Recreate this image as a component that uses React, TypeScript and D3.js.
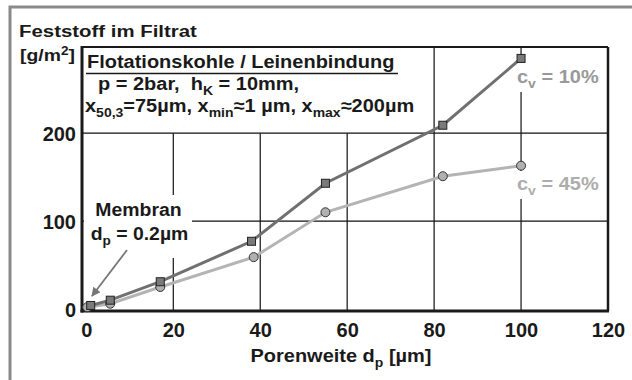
import { useEffect, useRef } from 'react';
import * as d3 from 'd3';
const { select, scaleLinear, axisLeft, axisBottom, line } = d3;

// Porenweite d_p [µm] und Feststoff im Filtrat [g/m²]
const poreSize10 = [1, 5.5, 17, 38, 55, 82, 100];
const solids10 = [4, 10, 31, 77, 143, 209, 285];
const poreSize45 = [0.2, 5.5, 17, 38.5, 55, 82, 100];
const solids45 = [2, 6, 25, 59, 110, 151, 163];

const xTicks = [0, 20, 40, 60, 80, 100, 120];
const yTicks = [0, 100, 200];
const xGridFull = [80, 100];
const xGridLow = [20, 40, 60];
const yGrid = [100, 200];

const FONT = "'Liberation Sans', Arial, Helvetica, sans-serif";

type Part = { t: string; sub?: boolean; sup?: boolean };

const App = () => {
  const ref = useRef<SVGSVGElement | null>(null);

  useEffect(() => {
    const svg = select(ref.current);
    svg.selectAll('*').remove();

    const left = 82, right = 608, top = 47, bottom = 311;
    const x = scaleLinear().domain([-1, 120]).range([left, right]);
    const y = scaleLinear().domain([-2.3, 298]).range([bottom, top]);

    // outer frame
    svg.append('rect')
      .attr('x', 10).attr('y', 7).attr('width', 660).attr('height', 420)
      .attr('fill', 'none').attr('stroke', '#8a8a8a').attr('stroke-width', 3);

    const defs = svg.append('defs');
    defs.append('marker')
      .attr('id', 'arrowHead')
      .attr('viewBox', '0 0 10 10')
      .attr('refX', 9).attr('refY', 5)
      .attr('markerWidth', 11).attr('markerHeight', 9)
      .attr('markerUnits', 'userSpaceOnUse')
      .attr('orient', 'auto')
      .append('path').attr('d', 'M0,0 L10,5 L0,10 z').attr('fill', '#777');

    const text = (
      px: number, py: number, parts: Part[],
      opt: { size?: number; sx?: number; anchor?: string; fill?: string } = {}
    ) => {
      const size = opt.size ?? 18.5;
      const t = svg.append('text')
        .attr('transform', `translate(${px},${py}) scale(${opt.sx ?? 1.08},1)`)
        .attr('font-family', FONT).attr('font-weight', 'bold')
        .attr('font-size', size)
        .attr('text-anchor', opt.anchor ?? 'start')
        .attr('fill', opt.fill ?? '#1a1a1a');
      let shift = 0;
      parts.forEach(p => {
        const target = p.sub ? size * 0.25 : p.sup ? -size * 0.38 : 0;
        t.append('tspan')
          .attr('dy', target - shift)
          .attr('font-size', p.sub || p.sup ? size * 0.7 : size)
          .style('white-space', 'pre')
          .text(p.t);
        shift = target;
      });
      return t;
    };

    // grid
    const g = svg.append('g').attr('stroke', '#111').attr('stroke-width', 1.2);
    xGridLow.forEach(v => g.append('line')
      .attr('x1', x(v)).attr('x2', x(v)).attr('y1', y(200)).attr('y2', bottom));
    xGridFull.forEach(v => g.append('line')
      .attr('x1', x(v)).attr('x2', x(v)).attr('y1', top).attr('y2', bottom));
    yGrid.forEach(v => g.append('line')
      .attr('x1', left).attr('x2', right).attr('y1', y(v)).attr('y2', y(v)));

    // white label backgrounds
    svg.append('rect').attr('x', 84).attr('y', 195).attr('width', 108).attr('height', 63).attr('fill', '#fff');
    svg.append('rect').attr('x', 512).attr('y', 62).attr('width', 90).attr('height', 30).attr('fill', '#fff');
    svg.append('rect').attr('x', 512).attr('y', 171).attr('width', 90).attr('height', 28).attr('fill', '#fff');

    // frame of plot
    svg.append('line').attr('x1', left).attr('x2', right).attr('y1', top).attr('y2', top)
      .attr('stroke', '#1a1a1a').attr('stroke-width', 2);
    svg.append('line').attr('x1', right).attr('x2', right).attr('y1', top).attr('y2', bottom)
      .attr('stroke', '#1a1a1a').attr('stroke-width', 2.5);

    // axes
    const xAxisG = svg.append('g')
      .attr('transform', `translate(0,${bottom})`)
      .call(axisBottom(x).tickValues(xTicks).tickSize(0).tickPadding(6));
    xAxisG.select('.domain').remove();
    xAxisG.selectAll('text')
      .attr('font-family', FONT).attr('font-weight', 'bold').attr('font-size', 20)
      .attr('fill', '#1a1a1a').attr('dy', '0.98em');

    const yAxisG = svg.append('g')
      .attr('transform', `translate(${left},0)`)
      .call(axisLeft(y).tickValues(yTicks).tickSize(0).tickPadding(6));
    yAxisG.select('.domain').remove();
    yAxisG.selectAll('text')
      .attr('font-family', FONT).attr('font-weight', 'bold').attr('font-size', 20)
      .attr('fill', '#1a1a1a').attr('dy', '0.36em');

    svg.append('line').attr('x1', left).attr('x2', left).attr('y1', top - 1).attr('y2', bottom + 1.5)
      .attr('stroke', '#1a1a1a').attr('stroke-width', 3);
    svg.append('line').attr('x1', left - 1.5).attr('x2', right + 1).attr('y1', bottom).attr('y2', bottom)
      .attr('stroke', '#1a1a1a').attr('stroke-width', 3);

    // series
    const d10 = poreSize10.map((v, i) => [v, solids10[i]] as [number, number]);
    const d45 = poreSize45.map((v, i) => [v, solids45[i]] as [number, number]);
    const path = line<[number, number]>().x(d => x(d[0])).y(d => y(d[1]));

    svg.append('path').attr('d', path(d45)).attr('fill', 'none')
      .attr('stroke', '#b4b4b4').attr('stroke-width', 3);
    svg.append('path').attr('d', path(d10)).attr('fill', 'none')
      .attr('stroke', '#707070').attr('stroke-width', 3);

    svg.selectAll('circle.c45').data(d45).enter().append('circle')
      .attr('cx', d => x(d[0])).attr('cy', d => y(d[1])).attr('r', 4.5)
      .attr('fill', '#b0b0b0').attr('stroke', '#333').attr('stroke-width', 1);
    svg.selectAll('rect.s10').data(d10).enter().append('rect')
      .attr('x', d => x(d[0]) - 4).attr('y', d => y(d[1]) - 4)
      .attr('width', 8).attr('height', 8)
      .attr('fill', '#7a7a7a').attr('stroke', '#222').attr('stroke-width', 1);

    // arrow for Membran
    svg.append('line').attr('x1', 127).attr('y1', 250).attr('x2', 92).attr('y2', 296)
      .attr('stroke', '#777').attr('stroke-width', 1.8).attr('marker-end', 'url(#arrowHead)');

    // texts
    text(19, 37, [{ t: 'Feststoff im Filtrat' }], { size: 17, sx: 1.2 });
    text(20, 61, [{ t: '[g/m' }, { t: '2', sup: true }, { t: ']' }], { size: 17, sx: 1.14 });

    text(87, 68, [{ t: 'Flotationskohle / Leinenbindung' }]);
    svg.append('line').attr('x1', 86).attr('x2', 398).attr('y1', 73.5).attr('y2', 73.5)
      .attr('stroke', '#1a1a1a').attr('stroke-width', 1.6);
    text(98, 90, [{ t: 'p = 2bar,  h' }, { t: 'K', sub: true }, { t: ' = 10mm,' }]);
    text(85, 112, [
      { t: 'x' }, { t: '50,3', sub: true }, { t: '=75µm, x' }, { t: 'min', sub: true },
      { t: '≈1 µm, x' }, { t: 'max', sub: true }, { t: '≈200µm' },
    ]);

    text(138.5, 216, [{ t: 'Membran' }], { anchor: 'middle', sx: 1.05 });
    text(139.5, 240, [{ t: 'd' }, { t: 'p', sub: true }, { t: ' = 0.2µm' }], { anchor: 'middle', sx: 1.05 });

    text(517, 83, [{ t: 'c' }, { t: 'v', sub: true }, { t: ' = 10%' }], { fill: '#999' });
    text(517, 190, [{ t: 'c' }, { t: 'v', sub: true }, { t: ' = 45%' }], { fill: '#adadad' });

    text(341, 362, [{ t: 'Porenweite d' }, { t: 'p', sub: true }, { t: ' [µm]' }], { anchor: 'middle' });
  }, []);

  return (
    <svg
      ref={ref}
      width={632}
      height={380}
      style={{ position: 'absolute', left: 0, top: 0, background: '#fff' }}
    />
  );
};

export default App;
